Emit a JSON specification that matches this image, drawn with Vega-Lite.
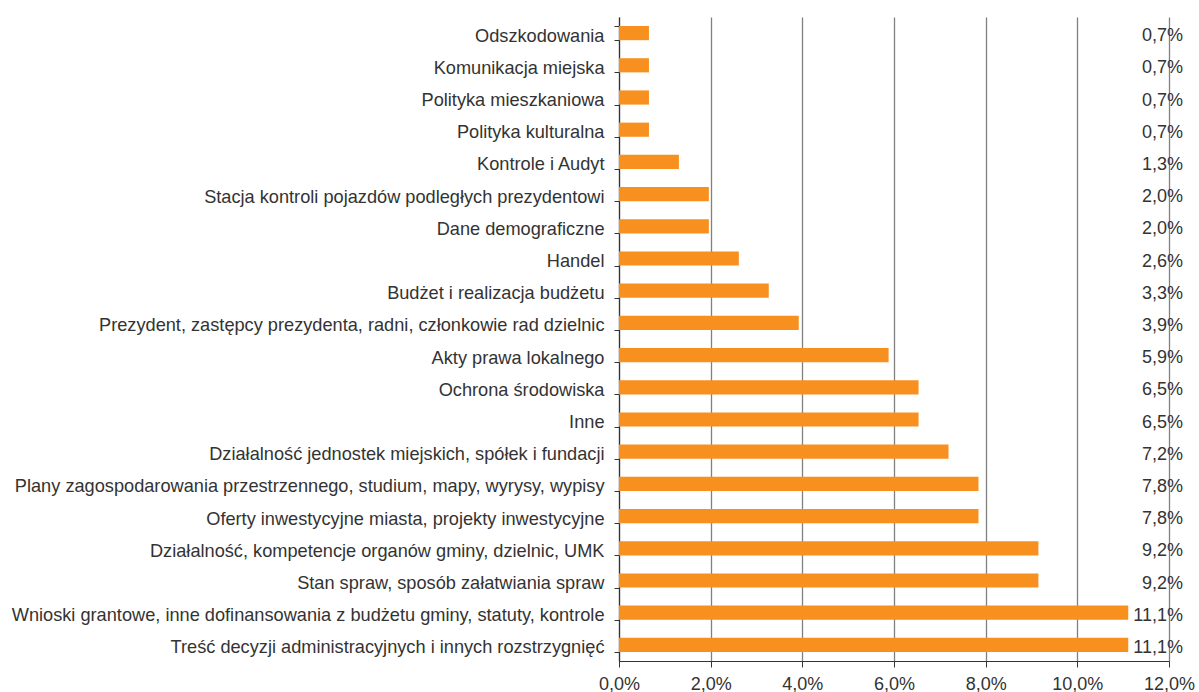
{
  "$schema": "https://vega.github.io/schema/vega-lite/v6.json",
  "width": 550,
  "height": 644,
  "autosize": "none",
  "padding": {"left": 619, "top": 17, "right": 30, "bottom": 31},
  "background": "white",
  "config": {
    "locale": {"number": {"decimal": ",", "thousands": " ", "grouping": [3], "currency": ["", " zł"]}},
    "view": {"stroke": null},
    "font": "Liberation Sans"
  },
  "data": {"values": [
    {"kategoria": "Odszkodowania", "udzial": 0.006536},
    {"kategoria": "Komunikacja miejska", "udzial": 0.006536},
    {"kategoria": "Polityka mieszkaniowa", "udzial": 0.006536},
    {"kategoria": "Polityka kulturalna", "udzial": 0.006536},
    {"kategoria": "Kontrole i Audyt", "udzial": 0.013072},
    {"kategoria": "Stacja kontroli pojazdów podległych prezydentowi", "udzial": 0.019608},
    {"kategoria": "Dane demograficzne", "udzial": 0.019608},
    {"kategoria": "Handel", "udzial": 0.026144},
    {"kategoria": "Budżet i realizacja budżetu", "udzial": 0.03268},
    {"kategoria": "Prezydent, zastępcy prezydenta, radni, członkowie rad dzielnic", "udzial": 0.039216},
    {"kategoria": "Akty prawa lokalnego", "udzial": 0.058824},
    {"kategoria": "Ochrona środowiska", "udzial": 0.065359},
    {"kategoria": "Inne", "udzial": 0.065359},
    {"kategoria": "Działalność jednostek miejskich, spółek i fundacji", "udzial": 0.071895},
    {"kategoria": "Plany zagospodarowania przestrzennego, studium, mapy, wyrysy, wypisy", "udzial": 0.078431},
    {"kategoria": "Oferty inwestycyjne miasta, projekty inwestycyjne", "udzial": 0.078431},
    {"kategoria": "Działalność, kompetencje organów gminy, dzielnic, UMK", "udzial": 0.091503},
    {"kategoria": "Stan spraw, sposób załatwiania spraw", "udzial": 0.091503},
    {"kategoria": "Wnioski grantowe, inne dofinansowania z budżetu gminy, statuty, kontrole", "udzial": 0.111111},
    {"kategoria": "Treść decyzji administracyjnych i innych rozstrzygnięć", "udzial": 0.111111}
  ]},
  "encoding": {
    "y": {
      "field": "kategoria",
      "type": "nominal",
      "sort": null,
      "scale": {"paddingInner": 0.56, "paddingOuter": 0.28},
      "axis": {
        "title": null,
        "labelFontSize": 18.2,
        "labelColor": "#333333",
        "labelPadding": 10,
        "labelOffset": 3,
        "labelLimit": 700,
        "tickBand": "extent",
        "tickSize": 5,
        "tickColor": "#333333",
        "domainColor": "#333333",
        "domainWidth": 1.2,
        "grid": false
      }
    }
  },
  "layer": [
    {
      "mark": {"type": "bar", "color": "#F7901E"},
      "encoding": {
        "x": {
          "field": "udzial",
          "type": "quantitative",
          "scale": {"domain": [0, 0.12], "nice": false},
          "axis": {
            "title": null,
            "format": ".1%",
            "values": [0, 0.02, 0.04, 0.06, 0.08, 0.1, 0.12],
            "labelFontSize": 18,
            "labelColor": "#333333",
            "labelPadding": 8,
            "tickSize": 6,
            "tickColor": "#333333",
            "domainColor": "#333333",
            "domainWidth": 1.2,
            "grid": true,
            "gridColor": "#808080",
            "gridWidth": 1.3,
            "labelFlush": false
          }
        }
      }
    },
    {
      "mark": {"type": "text", "align": "right", "dx": 14, "dy": 3, "fontSize": 18, "color": "#333333"},
      "encoding": {
        "x": {"datum": 0.12, "type": "quantitative"},
        "text": {"field": "udzial", "type": "quantitative", "format": ".1%"}
      }
    }
  ]
}
